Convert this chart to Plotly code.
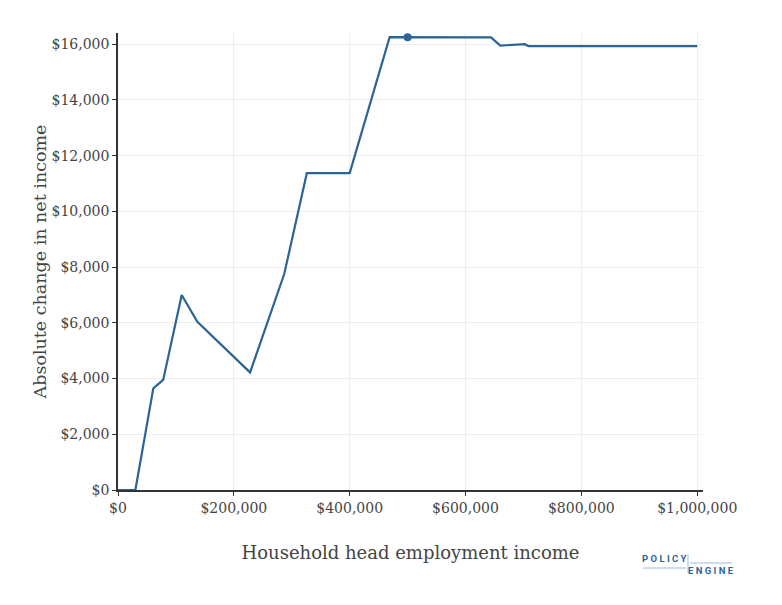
import plotly.graph_objects as go

# Net income change vs household head employment income
income = [0, 30000, 61000, 78000, 110000, 137000, 228000, 287000, 326000,
          400000, 469000, 644000, 660000, 702000, 709000, 1000000]
net_change = [0, 0, 3650, 3950, 7000, 6040, 4220, 7750, 11370,
              11370, 16250, 16240, 15950, 16000, 15930, 15930]

# current household marker
current_income = [500000]
current_change = [16250]

BLUE = "#2C6496"
FONT = "DejaVu Serif"

fig = go.Figure()
fig.add_trace(go.Scatter(
    x=income, y=net_change, mode="lines",
    line=dict(color=BLUE, width=2.2), showlegend=False,
))
fig.add_trace(go.Scatter(
    x=current_income, y=current_change, mode="markers",
    marker=dict(color=BLUE, size=8), showlegend=False,
))

fig.update_xaxes(
    range=[0, 1010000], tickformat="$,.0f", dtick=200000,
    showgrid=True, gridcolor="#eeeeee", zeroline=False,
    showline=True, linecolor="#333333", linewidth=1.5,
    ticks="outside", ticklen=4, tickcolor="#333333",
    tickfont=dict(family=FONT, size=14, color="#444444"),
    title=dict(text="Household head employment income", standoff=32,
               font=dict(family=FONT, size=18, color="#444444")),
)
fig.update_yaxes(
    range=[0, 16400], tickformat="$,.0f", dtick=2000,
    showgrid=True, gridcolor="#eeeeee", zeroline=False,
    showline=True, linecolor="#333333", linewidth=1.5,
    ticks="outside", ticklen=4, tickcolor="#333333",
    tickfont=dict(family=FONT, size=14, color="#444444"),
    title=dict(text="Absolute change in net income", standoff=0,
               font=dict(family=FONT, size=17.5, color="#444444")),
)

# PolicyEngine logo; positions given in screen pixels, mapped to the plot's paper coords
PLOT_X0, PLOT_X1, PLOT_Y0, PLOT_Y1 = 118, 703, 33, 490


def px(x, y):
    return (x - PLOT_X0) / (PLOT_X1 - PLOT_X0), (PLOT_Y1 - y) / (PLOT_Y1 - PLOT_Y0)


logo_font = dict(family="Roboto, DejaVu Sans", size=9.5, color=BLUE)
for text, (x, y) in (("<b>P O L I C Y</b>", (664, 558)), ("<b>E N G I N E</b>", (711, 570))):
    xx, yy = px(x, y)
    fig.add_annotation(text=text, x=xx, y=yy, xref="paper", yref="paper",
                       xanchor="center", yanchor="middle", showarrow=False,
                       font=logo_font)
for (x0, y0, x1, y1) in ((688, 554, 688, 573), (690, 563, 732, 563), (643, 568, 686, 568)):
    a0, b0 = px(x0, y0)
    a1, b1 = px(x1, y1)
    fig.add_shape(type="line", xref="paper", yref="paper", x0=a0, y0=b0, x1=a1, y1=b1,
                  line=dict(color="#9dbcd8", width=1))

# the page body adds an 8px margin, so shrink the figure by that much
fig.update_layout(
    width=774, height=597,
    margin=dict(l=110, r=79, t=25, b=115, autoexpand=False),
    plot_bgcolor="white", paper_bgcolor="white",
    font=dict(family=FONT, color="#444444"),
)

fig.write_html("out.html")
